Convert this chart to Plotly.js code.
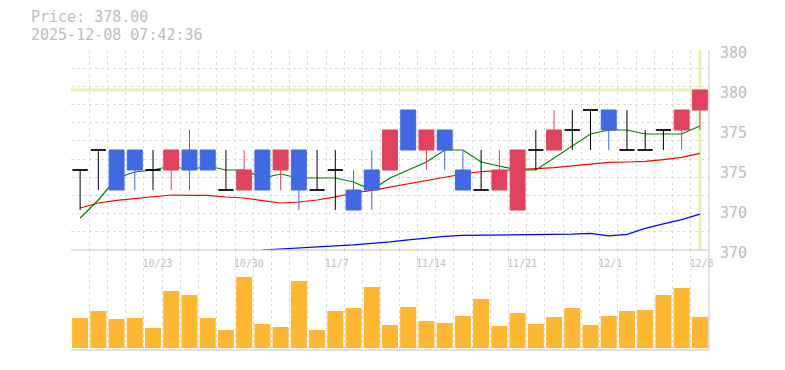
<!DOCTYPE html>
<html>
<head>
<meta charset="utf-8">
<script src="https://cdn.plot.ly/plotly-3.0.1.min.js"></script>
<style>html,body{margin:0;padding:0;background:#fff;}#chart{width:785px;height:370px;}</style>
</head>
<body>
<div id="chart"></div>
<script>
// ---- data ----
const dates = ["10/17","10/20","10/21","10/22","10/23","10/24","10/27","10/28","10/29","10/30",
  "10/31","11/4","11/5","11/6","11/7","11/10","11/11","11/12","11/13","11/14",
  "11/17","11/18","11/19","11/20","11/21","11/25","11/26","11/27","11/28","12/1",
  "12/2","12/3","12/4","12/5","12/8"];
const tickDates = ["10/23","10/30","11/7","11/14","11/21","12/1","12/8"];

const openP  = [374,375,375,375,374,374,375,375,373,373,375,374,375,373,374,373,374,374,377,375,376,374,373,373,372,375,375,376,377,377,375,375,376,376,377];
const highP  = [374,375,375,375,375,375,376,375,375,375,375,375,375,375,375,374,375,376,377,376,376,375,375,375,375,376,377,377,377,377,377,376,376,377,378];
const lowP   = [372,373,373,373,373,373,373,374,373,373,373,373,372,373,372,372,372,374,375,374,374,373,373,373,372,374,375,375,375,375,375,375,375,375,376];
const closeP = [374,375,373,374,374,375,374,374,373,374,373,375,373,373,374,372,373,376,375,376,375,373,373,374,375,375,376,376,377,376,375,375,376,377,378];

const ma5  = [371.6,372.5,373.6,373.9,374.0,374.2,374.0,374.2,374.0,374.0,373.6,373.8,373.6,373.6,373.6,373.4,373.0,373.6,374.0,374.4,375.0,375.0,374.4,374.2,374.0,374.0,374.6,375.2,375.8,376.0,376.0,375.8,375.8,375.8,376.2];
const ma25 = [372.1,372.35,372.48,372.56,372.65,372.75,372.73,372.73,372.65,372.6,372.47,372.35,372.4,372.5,372.66,372.85,372.98,373.15,373.3,373.48,373.65,373.8,373.92,373.98,374.02,374.07,374.12,374.2,374.3,374.38,374.4,374.43,374.52,374.63,374.83];
const ma75 = [null,null,null,null,null,null,null,null,null,null,370.0,370.06,370.11,370.17,370.21,370.26,370.32,370.41,370.51,370.6,370.68,370.73,370.74,370.74,370.75,370.76,370.78,370.79,370.83,370.71,370.78,371.08,371.31,371.52,371.79];

const volume = [30000,37000,29000,30000,20000,57000,53000,30000,18000,71000,24000,21000,67000,18000,37000,40000,61000,23000,41000,27000,25000,32000,49000,22000,35000,24000,31000,40000,23000,32000,37000,38000,53000,60000,31000];

const priceTickVals = [370,372,374,376,378,380];
const priceTickText = ["370","370","375","375","380","380"];

const currentPrice = 378.00;
const headerPrice = "Price: 378.00";
const headerTime = "2025-12-08 07:42:36";

// ---- build ----
const idx = dates.map((d, i) => i);
const tickIdx = tickDates.map(d => dates.indexOf(d));

function pick(cond) {
  const ii = idx.filter(cond);
  return {
    x: ii, open: ii.map(i => openP[i]), high: ii.map(i => highP[i]),
    low: ii.map(i => lowP[i]), close: ii.map(i => closeP[i])
  };
}
function candle(sub, color) {
  return Object.assign({
    type: 'candlestick', xaxis: 'x', yaxis: 'y', zorder: 2,
    increasing: {line: {color: color, width: 1}, fillcolor: color},
    decreasing: {line: {color: color, width: 1}, fillcolor: color},
    whiskerwidth: 0, hoverinfo: 'skip', showlegend: false
  }, sub);
}
const UP = '#e0435e', DOWN = '#4169e1', DOJI = '#000000';
const mono = 'DejaVu Sans Mono, monospace';
const txtColor = '#bdbdbd';
const lineColor = '#c3c3c3';
const gridColor = '#dcdcdc';

const data = [
  {type: 'scatter', mode: 'lines', x: idx, y: ma75, line: {color: '#0000ff', width: 1.2}, xaxis: 'x', yaxis: 'y', zorder: 1, hoverinfo: 'skip', showlegend: false},
  {type: 'scatter', mode: 'lines', x: idx, y: ma25, line: {color: '#ff0000', width: 1.2}, xaxis: 'x', yaxis: 'y', zorder: 1, hoverinfo: 'skip', showlegend: false},
  {type: 'scatter', mode: 'lines', x: idx, y: ma5, line: {color: '#008000', width: 1.2}, xaxis: 'x', yaxis: 'y', zorder: 1, hoverinfo: 'skip', showlegend: false},
  candle(pick(i => closeP[i] > openP[i]), UP),
  candle(pick(i => closeP[i] < openP[i]), DOWN),
  candle(pick(i => closeP[i] === openP[i]), DOJI),
  {type: 'bar', x: idx, y: volume, xaxis: 'x2', yaxis: 'y2', marker: {color: '#fdb733', line: {width: 0}}, hoverinfo: 'skip', showlegend: false},
  {type: 'scatter', mode: 'markers', x: [0], y: [null], xaxis: 'x', yaxis: 'y3', hoverinfo: 'skip', showlegend: false}
];

const minorGrid = {tickmode: 'linear', tick0: 0.5, dtick: 1, showgrid: true, gridcolor: gridColor, griddash: '3px,3px', gridwidth: 1, ticks: ''};

function border(xr, yr, x0, x1, y0, y1) {
  return {type: 'line', layer: 'above', xref: xr, yref: yr, x0: x0, x1: x1, y0: y0, y1: y1,
          line: {color: lineColor, width: 1}};
}

// price labels on the right edge, positioned on the price scale
const priceLabels = priceTickVals.map((v, k) => ({
  xref: 'x domain', yref: 'y', x: 1, y: v, xanchor: 'left', yanchor: 'middle',
  xshift: 10, yshift: -3, showarrow: false, text: priceTickText[k],
  font: {family: mono, size: 15, color: txtColor}, borderpad: 0
}));

const layout = {
  width: 785, height: 370,
  margin: {l: 71, r: 76, t: 50, b: 20, pad: 0},
  paper_bgcolor: '#ffffff', plot_bgcolor: '#ffffff',
  showlegend: false,
  boxgap: 0.18, boxgroupgap: 0, boxmode: 'overlay',
  bargap: 0.12,
  xaxis: {
    type: 'linear', range: [-0.5, 34.5], domain: [0, 1], anchor: 'y',
    rangeslider: {visible: false},
    showgrid: false, zeroline: false, showline: true, linecolor: lineColor, linewidth: 1,
    tickmode: 'array', tickvals: tickIdx, ticktext: tickDates, ticks: '',
    ticklabelposition: 'outside right', ticklabelshift: -11, ticklabelstandoff: 4,
    tickfont: {family: mono, size: 10, color: txtColor},
    minor: minorGrid, fixedrange: true
  },
  xaxis2: {
    type: 'linear', range: [-0.5, 34.5], domain: [0, 1], anchor: 'y2',
    rangeslider: {visible: false},
    showgrid: false, zeroline: false, showline: true, linecolor: lineColor, linewidth: 1,
    showticklabels: false, ticks: '', minor: minorGrid, fixedrange: true
  },
  yaxis: {
    domain: [1/3, 1], anchor: 'x', side: 'right', range: [370, 380],
    showgrid: false, zeroline: false, showline: true, linecolor: lineColor, linewidth: 1,
    tickmode: 'array', tickvals: priceTickVals, ticktext: priceTickText, ticks: '',
    showticklabels: false, fixedrange: true
  },
  yaxis3: {
    overlaying: 'y', anchor: 'x', side: 'right', range: [370, 380],
    tickmode: 'linear', tick0: 370, dtick: 10/11,
    showgrid: true, gridcolor: gridColor, griddash: '3px,3px', gridwidth: 1,
    showticklabels: false, ticks: '', zeroline: false, showline: false, fixedrange: true
  },
  yaxis2: {
    domain: [0, 1/3], anchor: 'x2', side: 'right', range: [-2000, 98000],
    showgrid: false, zeroline: false, showline: true, linecolor: lineColor, linewidth: 1,
    showticklabels: false, ticks: '', fixedrange: true
  },
  shapes: [
    {type: 'line', layer: 'below', xref: 'x domain', x0: 0, x1: 1, yref: 'y', y0: currentPrice, y1: currentPrice,
     line: {color: '#e3f4ae', width: 3}},
    {type: 'line', layer: 'below', xref: 'x', x0: idx[idx.length - 1], x1: idx[idx.length - 1], yref: 'y domain', y0: 0, y1: 1,
     line: {color: '#e3f4ae', width: 3}},
    border('x domain', 'y domain', 0, 1, 0, 0),
    border('x domain', 'y domain', 1, 1, 0, 1),
    border('x2 domain', 'y2 domain', 0, 1, 0, 0),
    border('x2 domain', 'y2 domain', 1, 1, 0, 1)
  ],
  annotations: [
    {xref: 'paper', yref: 'paper', x: -0.0643, y: (350 - 17.2) / 300, xanchor: 'left', yanchor: 'middle', showarrow: false,
     text: headerPrice, font: {family: mono, size: 15, color: txtColor}, borderpad: 0},
    {xref: 'paper', yref: 'paper', x: -0.0643, y: (350 - 35.0) / 300, xanchor: 'left', yanchor: 'middle', showarrow: false,
     text: headerTime, font: {family: mono, size: 15, color: txtColor}, borderpad: 0}
  ].concat(priceLabels)
};

Plotly.newPlot('chart', data, layout, {displayModeBar: false, staticPlot: true});
</script>
</body>
</html>
